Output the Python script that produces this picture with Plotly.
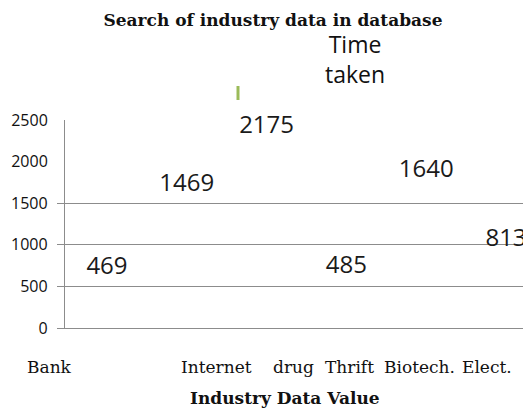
import plotly.graph_objects as go

title_text = "Search of industry data in database"
series_name = "Time taken"
categories = ["Bank", "Internet", "drug", "Thrift", "Biotech.", "Elect."]
time_taken = [469, 1469, 2175, 485, 1640, 813]
y_ticks_grid = [0, 500, 1000, 1500]
y_ticks_extra = [2000, 2500]
x_title = "Industry Data Value"

# styling-only offsets for where the category labels were printed (category index units)
cat_label_pos = [-0.714, 1.378, 2.343, 3.045, 3.91, 4.76]

W, H = 523, 414
ML, MR, MT, MB = 65, 0, 120, 86
plot_h = H - MT - MB
plot_w = W - ML - MR
X0, X1 = -0.526, 5.213

def py(pix):  # pixel y -> paper y
    return (H - MB - pix) / plot_h

def px(pix):
    return (pix - ML) / plot_w

grid_col = "#8c8c8c"
serif = "DejaVu Serif"
sans = "Open Sans"

fig = go.Figure()
fig.add_trace(go.Scatter(
    x=categories, y=time_taken, name=series_name,
    mode="markers+text",
    marker=dict(size=12, color="rgba(0,0,0,0)"),
    text=[str(v) for v in time_taken],
    textposition="top center",
    textfont=dict(family=sans, size=24, color="#1a1a1a"),
    cliponaxis=False, showlegend=False, hoverinfo="skip",
))
fig.add_trace(go.Scatter(x=[categories[0]], y=[None], yaxis="y2", showlegend=False, hoverinfo="skip"))

fig.update_layout(
    width=W, height=H,
    margin=dict(l=ML, r=MR, t=MT, b=MB, pad=0, autoexpand=False),
    plot_bgcolor="white", paper_bgcolor="white",
    title=dict(text="<b>" + title_text + "</b>", x=273 / W, xanchor="center",
               y=1 - 20 / H, yanchor="middle", yref="container",
               font=dict(family=serif, size=17, color="#111")),
    xaxis=dict(type="category", range=[X0, X1], showticklabels=False,
               showgrid=False, zeroline=False, showline=True, linecolor=grid_col, linewidth=1.3,
               ticks=""),
    yaxis=dict(range=[0, 2500], tickvals=y_ticks_grid, showgrid=True, gridcolor=grid_col,
               gridwidth=1.3, zeroline=False, showline=True, linecolor=grid_col, linewidth=1.3,
               ticks="outside", ticklen=7, tickcolor=grid_col, tickwidth=1.3,
               ticklabelstandoff=6,
               tickfont=dict(family=sans, size=16, color="#111")),
    yaxis2=dict(range=[0, 2500], tickvals=y_ticks_extra, overlaying="y", side="left", anchor="x",
                showgrid=False, zeroline=False, showline=False,
                ticks="outside", ticklen=7, tickcolor="rgba(0,0,0,0)", ticklabelstandoff=6,
                tickfont=dict(family=sans, size=16, color="#111")),
)

annotations = []
for lab, xp in zip(categories, cat_label_pos):
    annotations.append(dict(text=lab, x=(xp - X0) / (X1 - X0), xref="paper", y=py(367), yref="paper",
                            xanchor="center", yanchor="middle", showarrow=False,
                            font=dict(family=serif, size=17, color="#111")))
annotations.append(dict(text="<b>" + x_title + "</b>", x=px(285), xref="paper", y=py(398), yref="paper",
                        xanchor="center", yanchor="middle", showarrow=False,
                        font=dict(family=serif, size=17, color="#111")))
annotations.append(dict(text=series_name.replace(" ", "<br>"), x=px(355), xref="paper", y=py(59), yref="paper",
                        xanchor="center", yanchor="middle", showarrow=False,
                        font=dict(family=sans, size=23, color="#111")))
fig.update_layout(annotations=annotations)

fig.add_shape(type="line", xref="paper", yref="paper", x0=px(238), x1=px(238), y0=py(100), y1=py(86),
              line=dict(color="#9BBB59", width=3))

fig.write_html("out.html", config={"displayModeBar": False},
               post_script="document.body.style.margin='0';document.body.style.overflow='hidden';")
